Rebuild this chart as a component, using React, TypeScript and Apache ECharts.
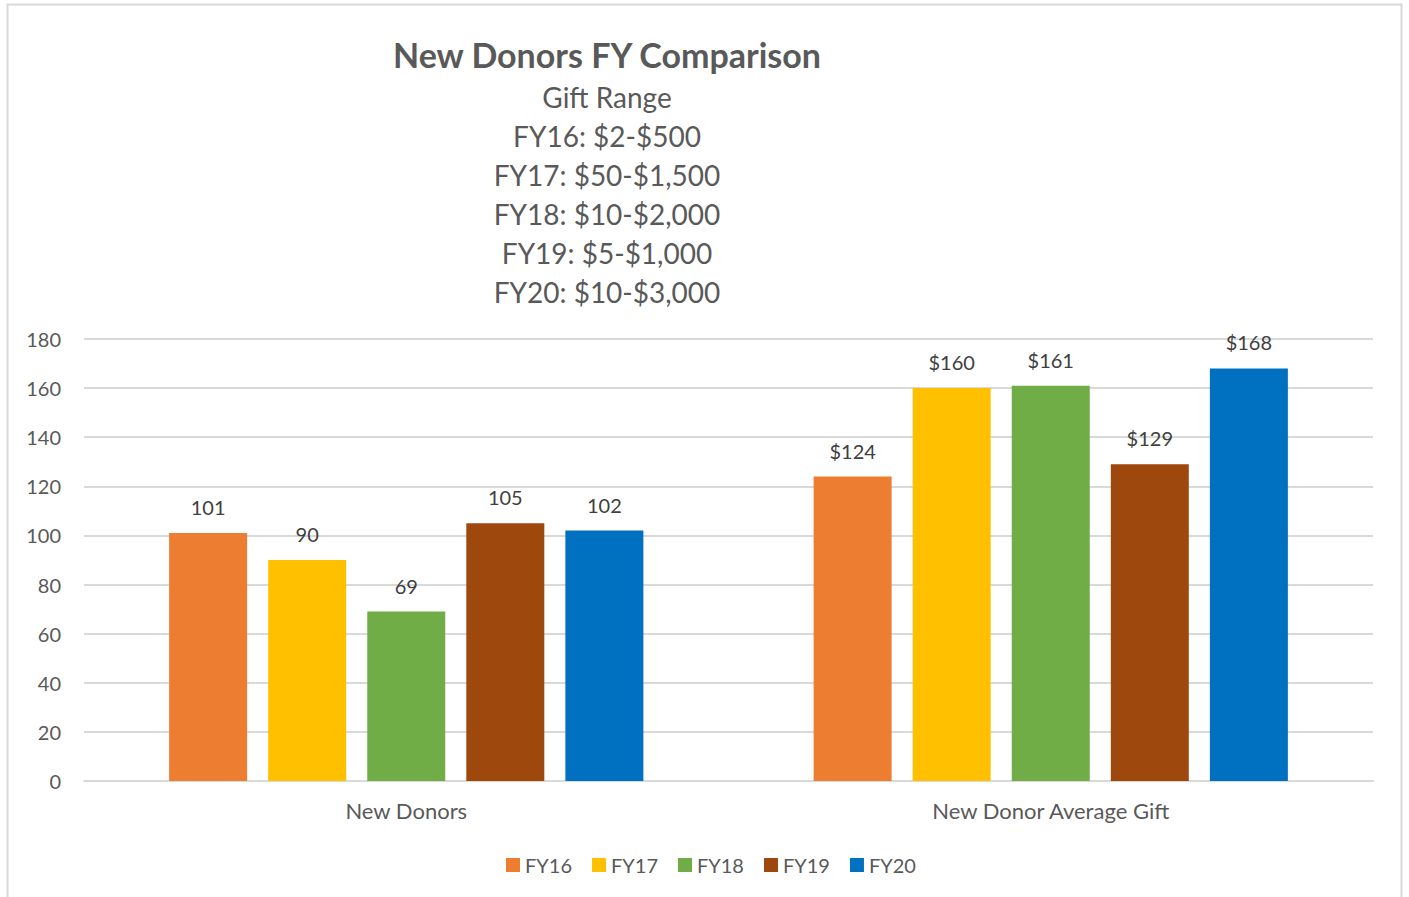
import React, { useEffect, useRef } from "react";
import * as echarts from "echarts";

const categories = ["New Donors", "New Donor Average Gift"];
const seriesNames = ["FY16", "FY17", "FY18", "FY19", "FY20"];
const fy16 = [101, 124];
const fy17 = [90, 160];
const fy18 = [69, 161];
const fy19 = [105, 129];
const fy20 = [102, 168];
const colors = ["#ED7D31", "#FFC000", "#70AD47", "#9E480E", "#0070C0"];
const titleText = "New Donors FY Comparison";
const subtitleLines = [
  "Gift Range",
  "FY16: $2-$500",
  "FY17: $50-$1,500",
  "FY18: $10-$2,000",
  "FY19: $5-$1,000",
  "FY20: $10-$3,000",
];

const FONT = "Lato, 'Open Sans', sans-serif";

export default function App() {
  const ref = useRef<HTMLDivElement>(null);
  useEffect(() => {
    if (!ref.current) return;
    const chart = echarts.init(ref.current, undefined, { renderer: "svg" });
    const values = [fy16, fy17, fy18, fy19, fy20];
    const graphics: any[] = [
      {
        type: "rect",
        shape: { x: 7.5, y: 4.5, width: 1394, height: 900 },
        style: { fill: "none", stroke: "#d9d9d9", lineWidth: 2 },
        silent: true,
      },
      {
        type: "text",
        x: 607,
        y: 54,
        style: {
          text: titleText,
          fill: "#595959",
          font: `bold 34px ${FONT}`,
          textAlign: "center",
          textVerticalAlign: "middle",
        },
      },
      ...subtitleLines.map((t, i) => ({
        type: "text",
        x: 607,
        y: 97 + i * 39,
        style: {
          text: t,
          fill: "#595959",
          font: `28px ${FONT}`,
          textAlign: "center",
          textVerticalAlign: "middle",
        },
      })),
    ];
    chart.setOption({
      animation: false,
      textStyle: { fontFamily: FONT },
      graphic: graphics,
      grid: { left: 84, right: 36, top: 339, bottom: 116, containLabel: false },
      legend: {
        data: seriesNames,
        bottom: 17,
        left: 501,
        itemWidth: 14,
        itemHeight: 14,
        itemGap: 20,
        icon: "rect",
        textStyle: { color: "#595959", fontSize: 20, fontFamily: FONT },
      },
      xAxis: {
        type: "category",
        data: categories,
        axisLine: { lineStyle: { color: "#d9d9d9", width: 2 } },
        axisTick: { show: false },
        axisLabel: { color: "#595959", fontSize: 22, margin: 18, fontFamily: FONT },
      },
      yAxis: {
        type: "value",
        min: 0,
        max: 180,
        interval: 20,
        axisLine: { show: false },
        axisTick: { show: false },
        splitLine: { lineStyle: { color: "#d9d9d9", width: 2 } },
        axisLabel: { color: "#595959", fontSize: 20, margin: 23, fontFamily: FONT },
      },
      series: seriesNames.map((name, i) => ({
        name,
        type: "bar",
        data: values[i],
        barWidth: 78,
        barGap: "27%",
        itemStyle: { color: colors[i] },
        label: {
          show: true,
          position: "top",
          distance: 16,
          color: "#404040",
          fontSize: 20,
          fontFamily: FONT,
          formatter: (p: any) => (p.dataIndex === 1 ? "$" + p.value : String(p.value)),
        },
      })),
    });
    return () => chart.dispose();
  }, []);
  return (
    <div
      ref={ref}
      style={{ position: "absolute", left: 0, top: 0, width: 1409, height: 897 }}
    />
  );
}
